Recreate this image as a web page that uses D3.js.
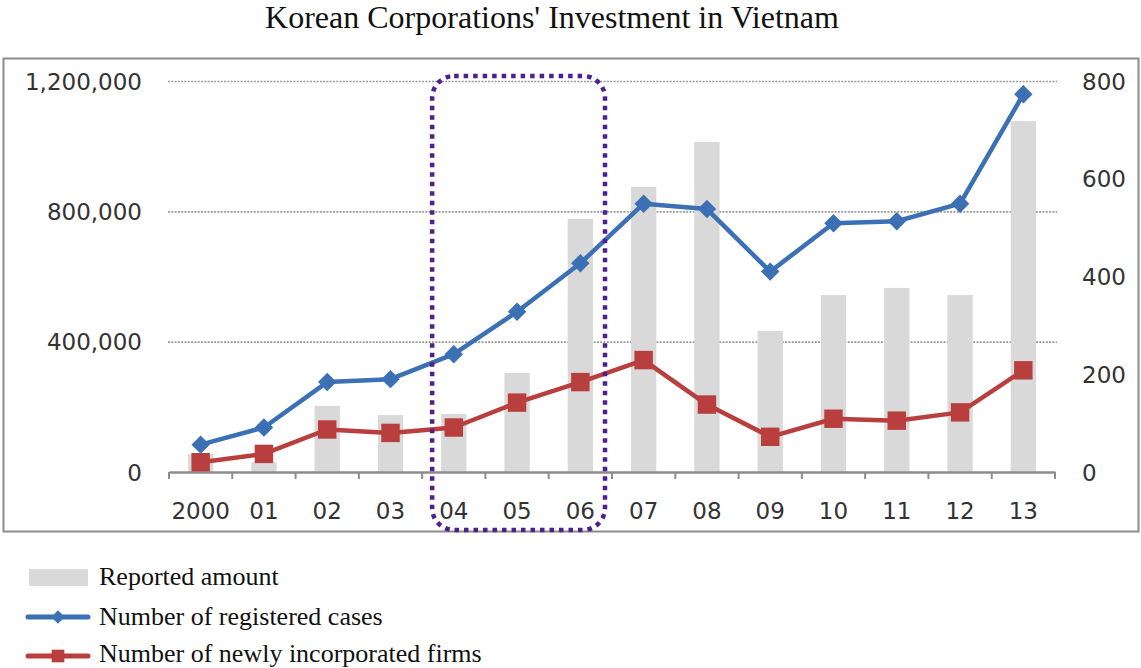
<!DOCTYPE html>
<html>
<head>
<meta charset="utf-8">
<script src="https://cdn.jsdelivr.net/npm/d3@7"></script>
<style>
    body { margin: 0; background: #ffffff; }
    svg { display: block; }
    .tick-label { font-family: 'DejaVu Sans', sans-serif; font-size: 23px; fill: #333333; }
    .title { font-family: 'Liberation Serif', serif; font-size: 32px; fill: #111111; }
    .legend-label { font-family: 'Liberation Serif', serif; font-size: 26px; fill: #111111; }
</style>
</head>
<body>
<svg id="chart" width="1141" height="668"></svg>
<script>
const years = ['2000', '01', '02', '03', '04', '05', '06', '07', '08', '09', '10', '11', '12', '13'];
const reportedAmount = [55000, 30000, 203000, 175000, 178000, 304000, 777000, 875000, 1013000, 433000, 543000, 565000, 543000, 1077000];
const registeredCases = [56, 91, 184, 190, 241, 328, 427, 549, 538, 410, 509, 513, 549, 773];
const newFirms = [20, 37, 87, 80, 91, 142, 184, 229, 138, 72, 109, 105, 122, 208];
const leftTicks = [0, 400000, 800000, 1200000];
const rightTicks = [0, 200, 400, 600, 800];
const highlighted = ['04', '06'];
const legendLabels = ['Reported amount', 'Number of registered cases', 'Number of newly incorporated firms'];
const titleText = 'Korean Corporations\' Investment in Vietnam';

const BLUE = '#3c70b4';
const RED = '#b83f3d';
const BAR = '#d9d9d9';
const AXIS = '#8c8c8c';

class InvestmentChart {
    constructor(container) {
        this.svg = d3.select(container);
        this.data = years.map((year, i) => ({
            year,
            amount: reportedAmount[i],
            cases: registeredCases[i],
            firms: newFirms[i],
        }));

        this.layout();
        this.render();
    }

    layout() {
        this.left = 169;
        this.right = 1055;
        this.top = 81;
        this.bottom = 472;

        this.x = d3.scaleBand()
            .domain(years)
            .range([this.left, this.right]);

        this.yLeft = d3.scaleLinear()
            .domain([0, 1200000])
            .range([this.bottom, this.top]);

        this.yRight = d3.scaleLinear()
            .domain([0, 800])
            .range([this.bottom, this.top]);
    }

    render() {
        const svg = this.svg;

        svg.append('text')
            .attr('class', 'title')
            .attr('x', 552)
            .attr('y', 28)
            .attr('text-anchor', 'middle')
            .text(titleText);

        // chart frame
        svg.append('rect')
            .attr('x', 3.5)
            .attr('y', 58.5)
            .attr('width', 1135)
            .attr('height', 473)
            .attr('fill', 'none')
            .attr('stroke', AXIS)
            .attr('stroke-width', 2);

        // left axis with dotted gridlines
        const leftAxis = svg.append('g')
            .attr('transform', `translate(${this.left - 1},0)`)
            .call(d3.axisLeft(this.yLeft)
                .tickValues(leftTicks)
                .tickFormat(d3.format(','))
                .tickSize(-(this.right - this.left + 3))
                .tickPadding(26));
        leftAxis.select('.domain').remove();
        leftAxis.selectAll('line')
            .attr('stroke', d => d === 0 ? 'none' : '#9a9a9a')
            .attr('stroke-width', 1.6)
            .attr('stroke-dasharray', '2,1.3');
        leftAxis.selectAll('text')
            .attr('class', 'tick-label')
            .attr('dy', '0.35em');

        // right axis
        const rightAxis = svg.append('g')
            .attr('transform', `translate(${this.right + 2},0)`)
            .call(d3.axisRight(this.yRight)
                .tickValues(rightTicks)
                .tickSize(0)
                .tickPadding(25));
        rightAxis.select('.domain').remove();
        rightAxis.selectAll('text')
            .attr('class', 'tick-label')
            .attr('dy', '0.35em');

        // bars
        const barWidth = this.x.bandwidth() * 0.4;
        svg.append('g')
            .selectAll('rect')
            .data(this.data)
            .enter()
            .append('rect')
            .attr('x', d => this.x(d.year) + (this.x.bandwidth() - barWidth) / 2)
            .attr('y', d => this.yLeft(d.amount))
            .attr('width', barWidth)
            .attr('height', d => this.bottom - this.yLeft(d.amount))
            .attr('fill', BAR);

        // x axis: domain line, ticks on category boundaries, labels centred
        const xAxis = svg.append('g')
            .attr('transform', `translate(0,${this.bottom})`)
            .call(d3.axisBottom(this.x)
                .tickSize(0)
                .tickPadding(31));
        xAxis.select('.domain')
            .attr('stroke', AXIS)
            .attr('stroke-width', 2.5);
        xAxis.selectAll('text')
            .attr('class', 'tick-label');

        const boundaries = years.map(d => this.x(d)).concat([this.right]);
        xAxis.selectAll('line.boundary')
            .data(boundaries)
            .enter()
            .append('line')
            .attr('class', 'boundary')
            .attr('x1', d => d)
            .attr('x2', d => d)
            .attr('y1', 0)
            .attr('y2', 7)
            .attr('stroke', AXIS)
            .attr('stroke-width', 2);

        const cx = d => this.x(d.year) + this.x.bandwidth() / 2;

        this.renderSeries(cx, d => this.yRight(d.cases), BLUE, 170, 45);
        this.renderSeries(cx, d => this.yRight(d.firms), RED, 340, 0);

        // highlighted period 2004-2006
        const x0 = this.x(highlighted[0]) + 10;
        const x1 = this.x(highlighted[1]) + this.x.bandwidth() - 7;
        svg.append('rect')
            .attr('x', x0)
            .attr('y', 76)
            .attr('width', x1 - x0)
            .attr('height', 454)
            .attr('rx', 22)
            .attr('ry', 22)
            .attr('fill', 'none')
            .attr('stroke', '#4e1f8e')
            .attr('stroke-width', 4.5)
            .attr('stroke-dasharray', '4.5,5');

        this.renderLegend();
    }

    renderSeries(cx, cy, color, size, rotate) {
        const g = this.svg.append('g');

        g.append('path')
            .datum(this.data)
            .attr('fill', 'none')
            .attr('stroke', color)
            .attr('stroke-width', 4.5)
            .attr('stroke-linejoin', 'round')
            .attr('d', d3.line().x(cx).y(cy));

        g.selectAll('path.marker')
            .data(this.data)
            .enter()
            .append('path')
            .attr('class', 'marker')
            .attr('transform', d => `translate(${cx(d)},${cy(d)}) rotate(${rotate})`)
            .attr('d', d3.symbol().type(d3.symbolSquare).size(size))
            .attr('fill', color);
    }

    renderLegend() {
        const legend = this.svg.append('g');
        const rows = [585, 625, 662];

        legend.append('rect')
            .attr('x', 29)
            .attr('y', 569)
            .attr('width', 59)
            .attr('height', 17)
            .attr('fill', BAR);

        const lines = [
            { y: 617, color: BLUE, size: 90, rotate: 45 },
            { y: 656, color: RED, size: 160, rotate: 0 },
        ];

        lines.forEach(item => {
            legend.append('line')
                .attr('x1', 28)
                .attr('x2', 88)
                .attr('y1', item.y)
                .attr('y2', item.y)
                .attr('stroke', item.color)
                .attr('stroke-width', 5)
                .attr('stroke-linecap', 'round');
            legend.append('path')
                .attr('transform', `translate(58,${item.y}) rotate(${item.rotate})`)
                .attr('d', d3.symbol().type(d3.symbolSquare).size(item.size))
                .attr('fill', item.color);
        });

        legend.selectAll('text')
            .data(legendLabels)
            .enter()
            .append('text')
            .attr('class', 'legend-label')
            .attr('x', 99)
            .attr('y', (d, i) => rows[i])
            .text(d => d);
    }
}

new InvestmentChart('#chart');
</script>
</body>
</html>
